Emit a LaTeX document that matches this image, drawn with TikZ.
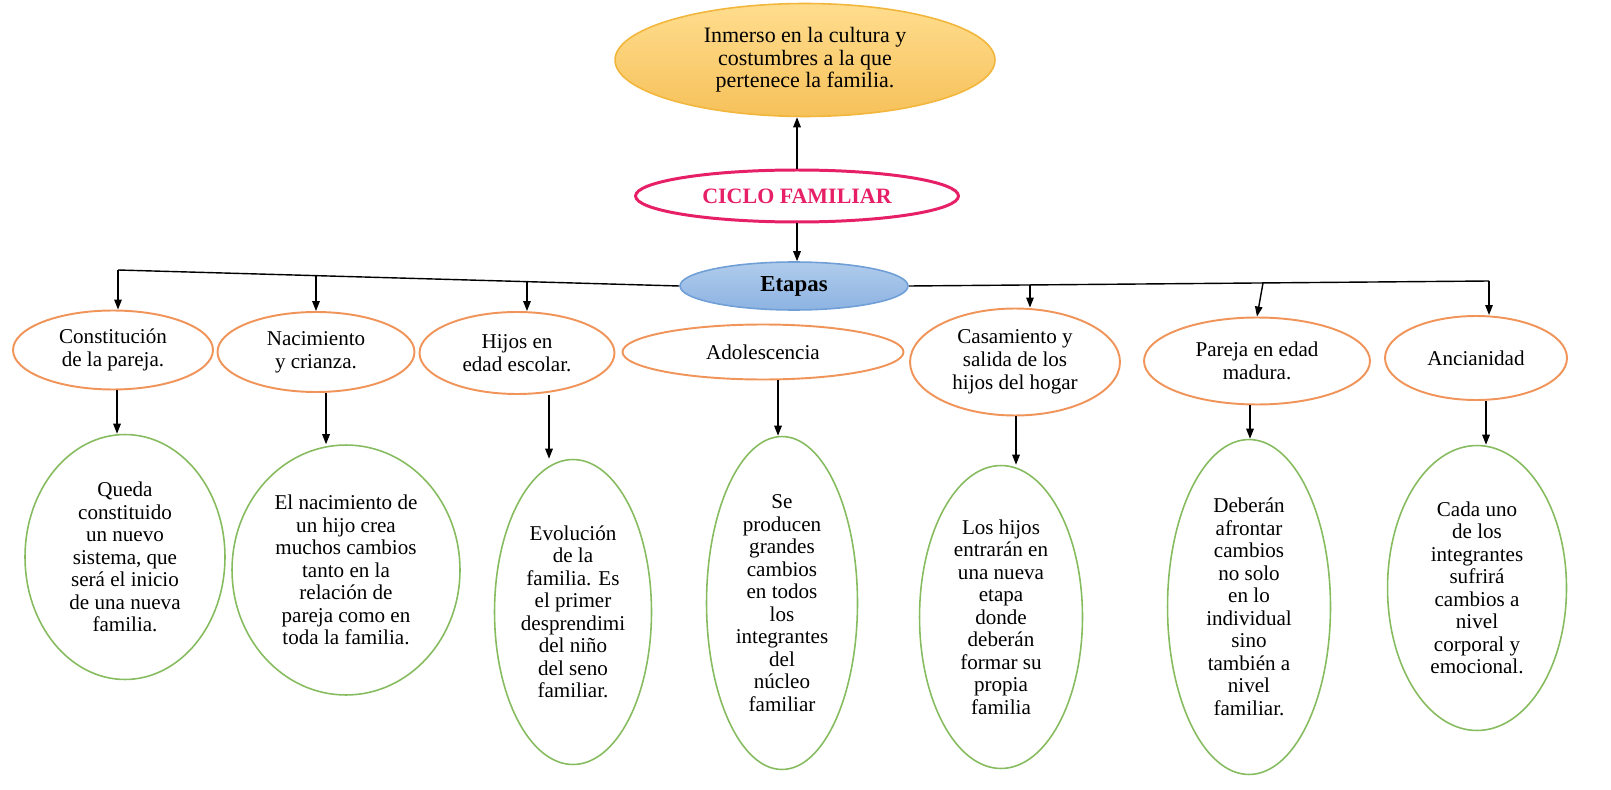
\documentclass[tikz,border=0pt]{standalone}
\usepackage{fontspec}
\setmainfont{Liberation Serif}
\usepackage{xcolor}
\usepackage{tikz}
\usetikzlibrary{shapes.geometric, arrows.meta}

\definecolor{oroarriba}{HTML}{FFDD8E}
\definecolor{oroabajo}{HTML}{F6C15A}
\definecolor{orolinea}{HTML}{F2B63C}
\definecolor{rosa}{HTML}{E61F66}
\definecolor{azularriba}{HTML}{B0CCEC}
\definecolor{azulabajo}{HTML}{8DB3E2}
\definecolor{azullinea}{HTML}{6F9FD6}
\definecolor{naranja}{HTML}{F0945A}
\definecolor{verde}{HTML}{86BC5F}

\begin{document}
\begin{tikzpicture}[x=0.02cm, y=-0.02cm,
  >={Triangle[length=0.2cm, width=0.15cm]},
  etapa/.style={ellipse, draw=naranja, line width=1.1pt, fill=white, inner sep=0pt, align=center, font=\fontsize{12}{13}\selectfont},
  detalle/.style={ellipse, draw=verde, line width=0.9pt, fill=white, inner sep=0pt, align=center, font=\fontsize{12}{12.8}\selectfont},
  flecha/.style={->, line width=0.8pt}]

\useasboundingbox (0,0) rectangle (1611,790);

% cabecera
\node[ellipse, draw=orolinea, line width=0.9pt, top color=oroarriba, bottom color=oroabajo, minimum width=7.6cm, minimum height=2.26cm, inner sep=0pt, align=center, font=\fontsize{12.5}{12.8}\selectfont] (cultura) at (805,60) {Inmerso en la cultura y\\costumbres a la que\\pertenece la familia.};
\node[ellipse, draw=rosa, line width=1.7pt, fill=white, minimum width=6.46cm, minimum height=1.04cm, inner sep=0pt, text=rosa, font=\fontsize{12.5}{13}\selectfont\bfseries] (ciclo) at (797,196) {CICLO FAMILIAR};
\node[ellipse, draw=azullinea, line width=0.9pt, top color=azularriba, bottom color=azulabajo, minimum width=4.56cm, minimum height=0.96cm, inner sep=0pt, font=\fontsize{13}{14}\selectfont\bfseries] (etapas) at (794,286) {Etapas};

% etapas
\node[etapa, minimum width=4.0cm, minimum height=1.58cm] (st1) at (113,350) {Constitución\\de la pareja.};
\node[etapa, minimum width=3.94cm, minimum height=1.6cm] (st2) at (316,352) {Nacimiento\\y crianza.};
\node[etapa, minimum width=3.9cm, minimum height=1.64cm] (st3) at (517,353) {Hijos en\\edad escolar.};
\node[etapa, minimum width=5.62cm, minimum height=1.1cm] (st4) at (763,352) {Adolescencia};
\node[etapa, minimum width=4.2cm, minimum height=2.14cm] (st5) at (1015,362) {Casamiento y\\salida de los\\hijos del hogar};
\node[etapa, minimum width=4.52cm, minimum height=1.74cm] (st6) at (1257,361) {Pareja en edad\\madura.};
\node[etapa, minimum width=3.64cm, minimum height=1.68cm] (st7) at (1476,358) {Ancianidad};

% detalles
\node[detalle, minimum width=4.0cm, minimum height=4.9cm] (gr1) at (125,557) {Queda\\constituido\\un nuevo\\sistema, que\\será el inicio\\de una nueva\\familia.};
\node[detalle, minimum width=4.56cm, minimum height=5.0cm] (gr2) at (346,570) {El nacimiento de\\un hijo crea\\muchos cambios\\tanto en la\\relación de\\pareja como en\\toda la familia.};
\node[detalle, minimum width=3.14cm, minimum height=6.1cm] (gr3) at (573,612) {Evolución\\de la\\familia. Es\\el primer\\desprendimi\\del niño\\del seno\\familiar.};
\node[detalle, minimum width=3.02cm, minimum height=6.66cm] (gr4) at (782,603) {Se\\producen\\grandes\\cambios\\en todos\\los\\integrantes\\del\\núcleo\\familiar};
\node[detalle, minimum width=3.26cm, minimum height=6.06cm] (gr5) at (1001,617) {Los hijos\\entrarán en\\una nueva\\etapa\\donde\\deberán\\formar su\\propia\\familia};
\node[detalle, minimum width=3.26cm, minimum height=6.7cm] (gr6) at (1249,607) {Deberán\\afrontar\\cambios\\no solo\\en lo\\individual\\sino\\también a\\nivel\\familiar.};
\node[detalle, minimum width=3.58cm, minimum height=5.7cm] (gr7) at (1477,588) {Cada uno\\de los\\integrantes\\sufrirá\\cambios a\\nivel\\corporal y\\emocional.};

% puntos de la linea
\coordinate (b1) at (118,270);
\coordinate (b2) at (316,276);
\coordinate (b3) at (527,282);
\coordinate (b5) at (1030,285);
\coordinate (b6) at (1263,283);
\coordinate (b7) at (1489,281);
\coordinate (d1) at (117,0);
\coordinate (d2) at (326,0);
\coordinate (d3) at (549,0);
\coordinate (d4) at (778,0);
\coordinate (d5) at (1016,0);
\coordinate (d6) at (1250,0);
\coordinate (d7) at (1486,0);

\draw[flecha] (ciclo.north) -- (ciclo.north |- cultura.south);
\draw[flecha] (ciclo.south) -- (ciclo.south |- etapas.north);
\draw[line width=0.8pt] (b1) -- (etapas.west);
\draw[line width=0.8pt] (etapas.east) -- (b7);

\draw[flecha] (b1) -- (b1 |- st1.north);
\draw[flecha] (b2) -- (b2 |- st2.north);
\draw[flecha] (b3) -- (b3 |- st3.north);
\draw[flecha] (b5) -- (b5 |- st5.north);
\draw[flecha] (b6) -- (st6.north);
\draw[flecha] (b7) -- (b7 |- st7.north);

\draw[flecha] (st1.south -| d1) -- (gr1.north -| d1);
\draw[flecha] (st2.south -| d2) -- (gr2.north -| d2);
\draw[flecha] (st3.south -| d3) -- (gr3.north -| d3);
\draw[flecha] (st4.south -| d4) -- (gr4.north -| d4);
\draw[flecha] (st5.south -| d5) -- (gr5.north -| d5);
\draw[flecha] (st6.south -| d6) -- (gr6.north -| d6);
\draw[flecha] (st7.south -| d7) -- (gr7.north -| d7);
\end{tikzpicture}
\end{document}
